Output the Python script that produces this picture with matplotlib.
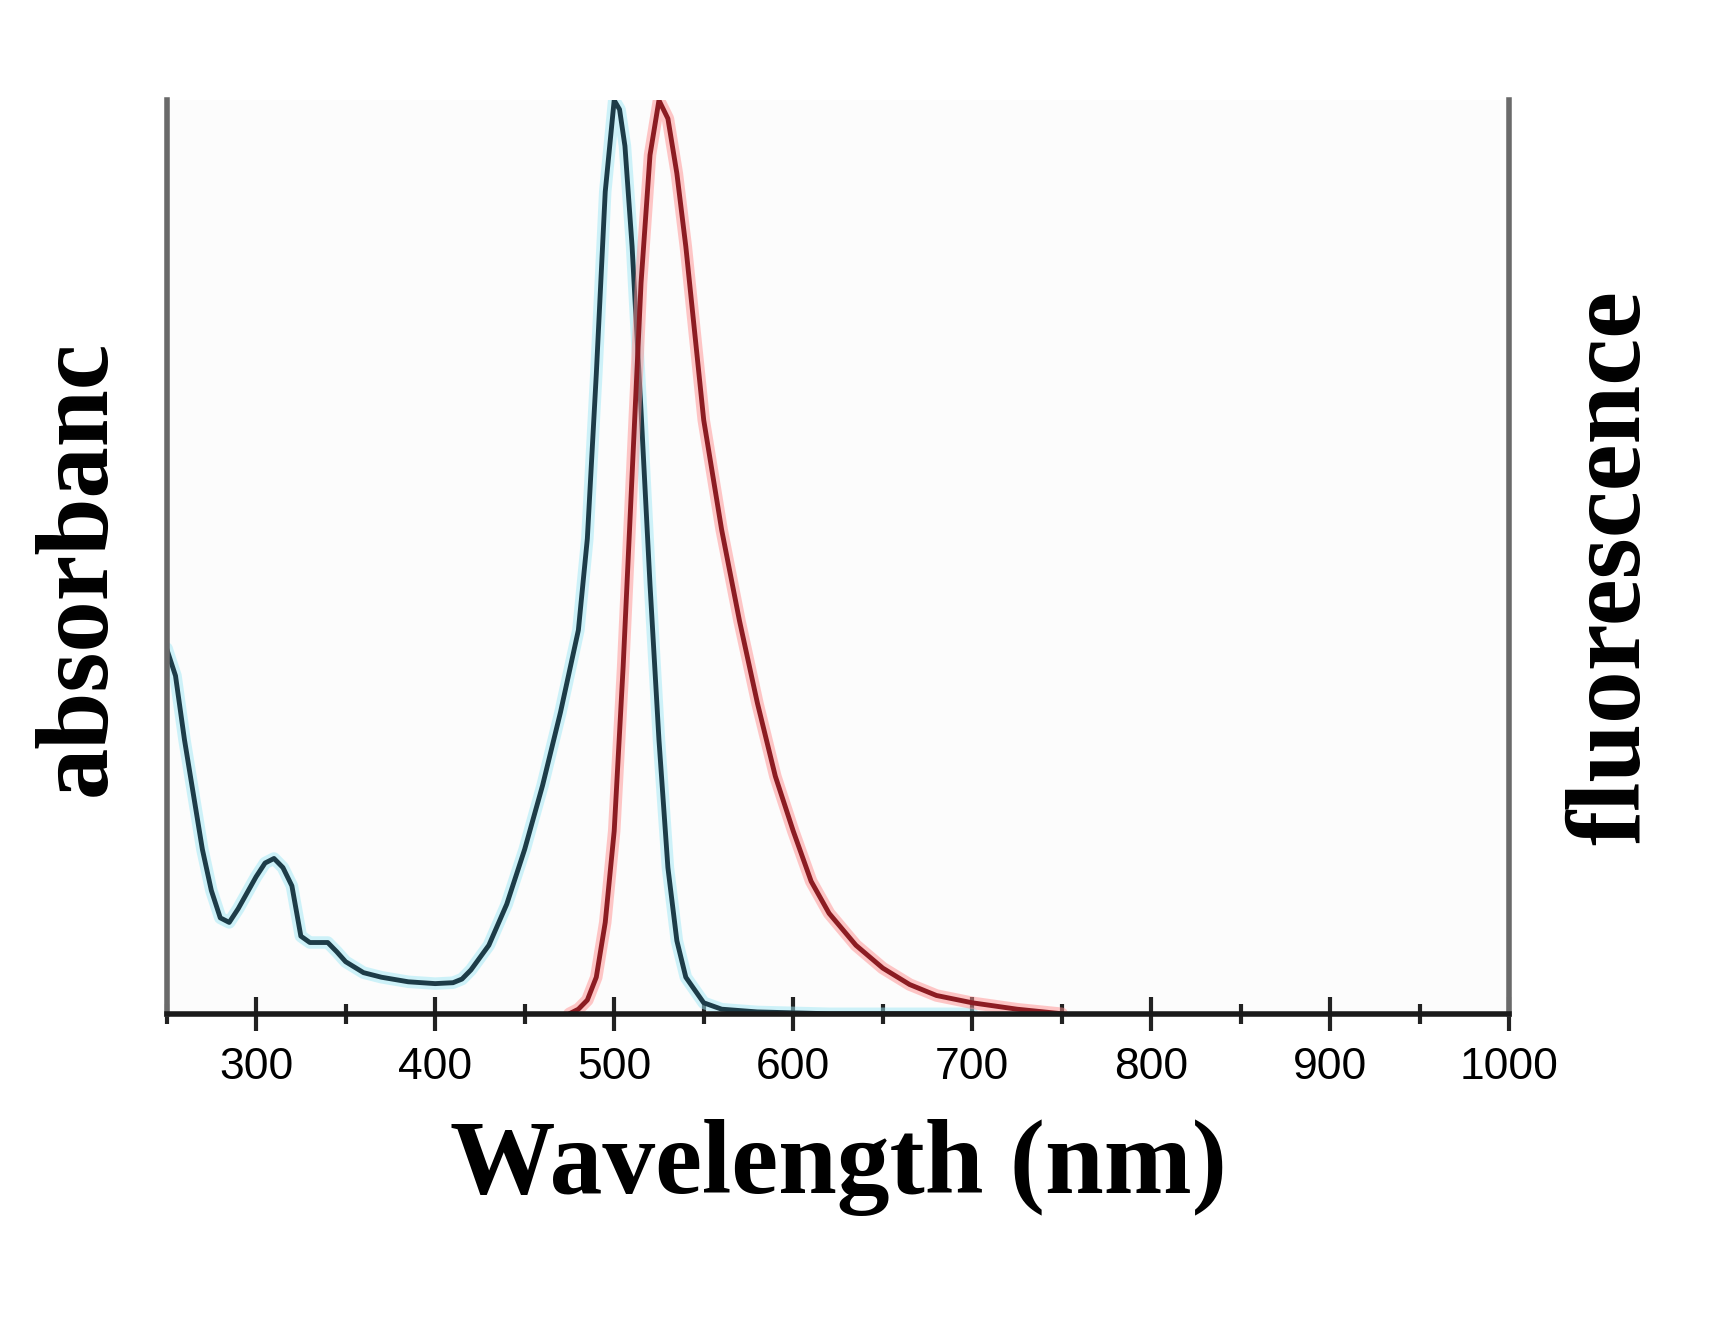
import matplotlib
matplotlib.use("Agg")
import matplotlib.pyplot as plt
from matplotlib.ticker import MultipleLocator

abs_wl = [250, 255, 260, 265, 270, 275, 280, 285, 290, 300, 305, 310, 315, 320, 325, 330, 340, 345, 350, 360, 370, 385, 400, 410, 415, 420, 430, 440, 450, 460, 470, 480, 485, 490, 495, 500, 503, 506, 510, 515, 520, 525, 530, 535, 540, 550, 560, 580, 620, 700]
abs_val = [0.40, 0.37, 0.30, 0.24, 0.18, 0.135, 0.105, 0.10, 0.115, 0.150, 0.165, 0.170, 0.160, 0.140, 0.085, 0.078, 0.078, 0.068, 0.057, 0.045, 0.040, 0.035, 0.033, 0.034, 0.038, 0.048, 0.075, 0.12, 0.18, 0.25, 0.33, 0.42, 0.52, 0.70, 0.90, 1.0, 0.99, 0.95, 0.84, 0.66, 0.47, 0.30, 0.16, 0.08, 0.04, 0.012, 0.005, 0.002, 0.0, 0.0]

fl_wl = [475, 480, 485, 490, 495, 500, 505, 510, 515, 520, 525, 530, 535, 540, 550, 560, 570, 580, 590, 600, 610, 620, 635, 650, 665, 680, 700, 725, 750]
fl_val = [0.0, 0.005, 0.015, 0.04, 0.10, 0.20, 0.38, 0.59, 0.80, 0.94, 1.0, 0.98, 0.92, 0.84, 0.65, 0.53, 0.43, 0.34, 0.26, 0.20, 0.145, 0.11, 0.075, 0.05, 0.032, 0.02, 0.012, 0.005, 0.0]

fig = plt.figure(figsize=(17.35, 13.2), dpi=100)
fig.patch.set_facecolor("white")
ax = fig.add_axes([0.096, 0.232, 0.774, 0.692])
ax.set_facecolor("#fcfcfc")

ax.plot(abs_wl, abs_val, color="#9fe8f5", lw=9, alpha=0.5, solid_capstyle="round")
ax.plot(abs_wl, abs_val, color="#1d3c48", lw=3.5)
ax.plot(fl_wl, fl_val, color="#ff9090", lw=9, alpha=0.5, solid_capstyle="round")
ax.plot(fl_wl, fl_val, color="#8c1c22", lw=3.5)

ax.set_xlim(250, 1000)
ax.set_ylim(0, 1.0)
ax.xaxis.set_major_locator(MultipleLocator(100))
ax.xaxis.set_minor_locator(MultipleLocator(50))
ax.set_yticks([])
ax.tick_params(axis="x", which="major", direction="inout", length=24, width=3, color="#222222", pad=12)
ax.tick_params(axis="x", which="minor", direction="inout", length=14, width=3, color="#222222")
ax.set_xticks(range(300, 1001, 100))
for lab in ax.get_xticklabels():
    lab.set_family(["Liberation Sans", "DejaVu Sans"])
    lab.set_fontsize(32)
    lab.set_stretch("condensed")

ax.spines["top"].set_visible(False)
ax.spines["bottom"].set_linewidth(4)
ax.spines["bottom"].set_color("#1a1a1a")
for s in ("left", "right"):
    ax.spines[s].set_linewidth(4)
    ax.spines[s].set_color("#6a6a6a")

ax.set_xlabel("Wavelength (nm)", family="Liberation Serif", fontweight="bold", fontsize=76, labelpad=22)
fig.text(0.046, 0.57, "absorbanc", rotation=90, family="Liberation Serif", fontweight="bold",
         fontsize=74, ha="center", va="center")
fig.text(0.93, 0.57, "fluorescence", rotation=90, family="Liberation Serif", fontweight="bold",
         fontsize=76, ha="center", va="center")

fig.savefig("out.png", dpi=100, facecolor=fig.get_facecolor())
